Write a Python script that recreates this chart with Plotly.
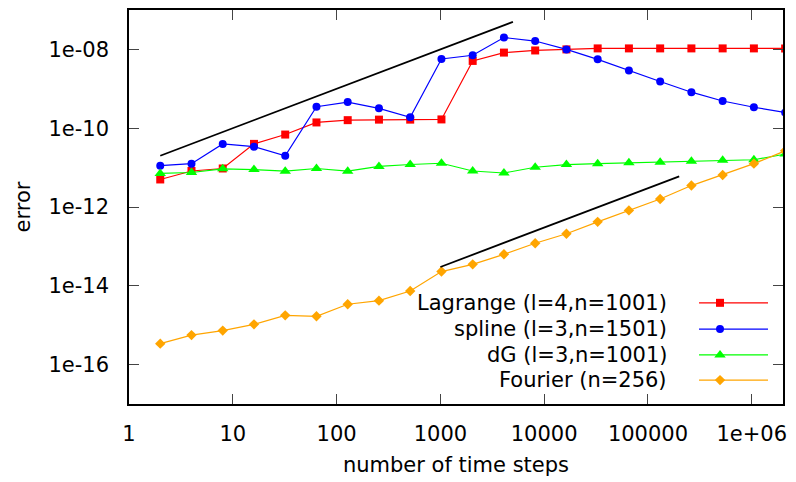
import plotly.graph_objects as go

# ---- data ----
steps = [2, 4, 8, 16, 32, 64, 128, 256, 512, 1024, 2048, 4096, 8192, 16384,
         32768, 65536, 131072, 262144, 524288, 1048576, 2097152]

lagrange = [5.0e-12, 8.2e-12, 9.5e-12, 4.0e-11, 6.9e-11, 1.4e-10, 1.6e-10, 1.65e-10,
            1.65e-10, 1.67e-10, 5.1e-9, 8.3e-9, 9.4e-9, 1.0e-8, 1.06e-8, 1.06e-8,
            1.06e-8, 1.06e-8, 1.06e-8, 1.06e-8, 1.06e-8]
spline = [1.12e-11, 1.26e-11, 4.0e-11, 3.4e-11, 2.0e-11, 3.5e-10, 4.6e-10, 3.2e-10,
          1.9e-10, 5.7e-9, 7.1e-9, 2.0e-8, 1.63e-8, 1.0e-8, 5.6e-9, 2.9e-9,
          1.53e-9, 8.2e-10, 4.9e-10, 3.4e-10, 2.5e-10]
dg = [7.1e-12, 7.5e-12, 9.3e-12, 8.9e-12, 8.1e-12, 9.5e-12, 8.1e-12, 1.07e-11,
      1.2e-11, 1.29e-11, 8.2e-12, 7.3e-12, 1.02e-11, 1.19e-11, 1.26e-11, 1.32e-11,
      1.36e-11, 1.44e-11, 1.53e-11, 1.58e-11, 2.2e-11]
fourier = [3.4e-16, 5.6e-16, 7.3e-16, 1.05e-15, 1.78e-15, 1.68e-15, 3.4e-15, 4.2e-15,
           7.4e-15, 2.3e-14, 3.5e-14, 6.3e-14, 1.2e-13, 2.1e-13, 4.2e-13, 8.2e-13,
           1.6e-12, 3.5e-12, 6.5e-12, 1.26e-11, 2.66e-11]

ref1_x = [2, 5000]
ref1_y = [2e-11, 5e-8]
ref2_x = [1000, 2e5]
ref2_y = [3e-14, 6e-12]

series_names = ["Lagrange (l=4,n=1001)", "spline (l=3,n=1501)",
                "dG (l=3,n=1001)", "Fourier (n=256)"]
series_data = [lagrange, spline, dg, fourier]
series_colors = ["#ff0000", "#0000ff", "#00ff00", "#ffa500"]
series_symbols = ["square", "circle", "triangle-up", "diamond"]
series_sizes = [8, 8, 10, 8]

x_tickvals = [1, 10, 100, 1000, 10000, 100000, 1000000]
x_ticktext = ["1", "10", "100", "1000", "10000", "100000", "1e+06"]
y_tickvals = [1e-16, 1e-14, 1e-12, 1e-10, 1e-8]
y_ticktext = ["1e-16", "1e-14", "1e-12", "1e-10", "1e-08"]

FONT = "DejaVu Sans"
FS = 21

fig = go.Figure()

for name, ys, col, sym, sz in zip(series_names, series_data, series_colors,
                                  series_symbols, series_sizes):
    fig.add_trace(go.Scatter(x=steps, y=ys, mode="lines+markers", name=name,
                             line=dict(color=col, width=1.2),
                             marker=dict(symbol=sym, size=sz, color=col, line=dict(width=0)),
                             showlegend=False))

for rx, ry in [(ref1_x, ref1_y), (ref2_x, ref2_y)]:
    fig.add_trace(go.Scatter(x=rx, y=ry, mode="lines", line=dict(color="black", width=1.8),
                             showlegend=False, hoverinfo="skip"))

# ---- manual gnuplot-style legend (text left, sample right) ----
leg_rows = [0.2568, 0.1902, 0.1245, 0.0606]
leg_text_x = 0.826
leg_line_x = [0.8716, 0.9771]
leg_mark_x = 0.9037
for name, col, sym, sz, ry in zip(series_names, series_colors, series_symbols,
                                  series_sizes, leg_rows):
    fig.add_trace(go.Scatter(x=leg_line_x, y=[ry, ry], mode="lines", xaxis="x2", yaxis="y2",
                             line=dict(color=col, width=1.2), showlegend=False, hoverinfo="skip"))
    fig.add_trace(go.Scatter(x=[leg_mark_x], y=[ry], mode="markers", xaxis="x2", yaxis="y2",
                             marker=dict(symbol=sym, size=sz, color=col, line=dict(width=0)),
                             showlegend=False, hoverinfo="skip"))
    fig.add_annotation(text=name, xref="paper", yref="paper", x=leg_text_x, y=ry,
                       xanchor="right", yanchor="middle", showarrow=False,
                       font=dict(family=FONT, size=FS, color="black"))

axis_common = dict(showline=True, linecolor="black", linewidth=1.5, mirror="ticks",
                   ticks="inside", ticklen=10, tickwidth=1, tickcolor="#444",
                   showgrid=False, zeroline=False,
                   tickfont=dict(family=FONT, size=FS, color="black"))

fig.update_layout(
    width=796, height=482,
    margin=dict(l=129, r=13, t=8, b=78),
    paper_bgcolor="white", plot_bgcolor="white",
    font=dict(family=FONT, size=FS, color="black"),
    xaxis=dict(type="log", range=[0, 6.30103], tickvals=x_tickvals, ticktext=x_ticktext,
               ticklabelstandoff=10,
               title=dict(text="number of time steps", font=dict(family=FONT, size=FS),
                          standoff=12),
               **axis_common),
    yaxis=dict(type="log", range=[-17, -7], tickvals=y_tickvals, ticktext=y_ticktext,
               ticklabelstandoff=14,
               title=dict(text="error", font=dict(family=FONT, size=FS), standoff=12),
               **axis_common),
    xaxis2=dict(overlaying="x", range=[0, 1], visible=False, fixedrange=True),
    yaxis2=dict(overlaying="y", range=[0, 1], visible=False, fixedrange=True),
)

fig.write_html("out.html")
